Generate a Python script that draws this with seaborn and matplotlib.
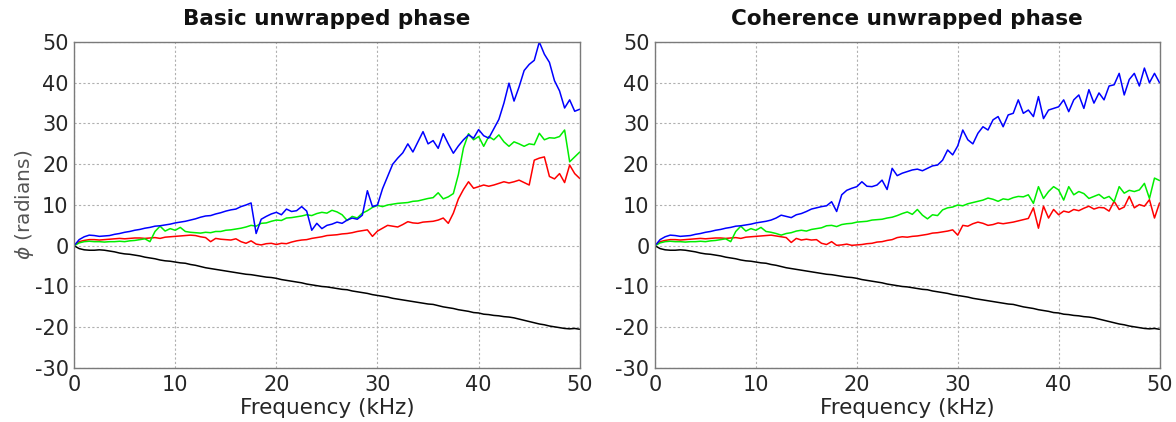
import numpy as np
import pandas as pd
import matplotlib
matplotlib.use("Agg")
import matplotlib.pyplot as plt
import seaborn as sns

# Frequency axis (kHz), 0.5 kHz spacing
freq = np.arange(0, 50.001, 0.5)

# Reference channel (shared by both estimators)
black = [0.0, -0.7, -1.0, -1.1, -1.1, -1.0, -1.1, -1.3, -1.5, -1.8, -2.0, -2.1, -2.3, -2.5, -2.8, -3.0,
         -3.2, -3.5, -3.7, -3.8, -4.0, -4.2, -4.3, -4.6, -4.8, -5.1, -5.4, -5.6, -5.8, -6.0, -6.2, -6.4,
         -6.6, -6.8, -7.0, -7.1, -7.3, -7.5, -7.7, -7.8, -8.0, -8.3, -8.5, -8.7, -8.9, -9.1, -9.4, -9.6,
         -9.8, -10.0, -10.1, -10.3, -10.5, -10.7, -10.8, -11.1, -11.3, -11.5, -11.7, -12.0, -12.2, -12.4,
         -12.6, -12.9, -13.1, -13.3, -13.5, -13.7, -13.9, -14.1, -14.3, -14.4, -14.7, -15.0, -15.2, -15.4,
         -15.7, -15.9, -16.1, -16.4, -16.5, -16.8, -16.9, -17.1, -17.2, -17.4, -17.5, -17.7, -18.0, -18.3,
         -18.6, -18.9, -19.2, -19.4, -19.7, -19.9, -20.1, -20.3, -20.4, -20.3, -20.5]

# Basic unwrapped phase
basic_blue = [0.0, 1.5, 2.2, 2.6, 2.5, 2.3, 2.4, 2.5, 2.8, 3.0, 3.3, 3.5, 3.8, 4.0, 4.3, 4.5,
              4.8, 4.9, 5.1, 5.3, 5.6, 5.8, 6.0, 6.3, 6.6, 7.0, 7.3, 7.4, 7.8, 8.1, 8.5, 8.8,
              9.0, 9.6, 10.0, 10.5, 3.0, 6.5, 7.2, 7.8, 8.2, 7.6, 9.0, 8.4, 8.6, 9.6, 8.5, 3.8,
              5.5, 4.2, 5.0, 5.3, 5.8, 5.5, 6.3, 6.8, 6.5, 7.5, 13.5, 9.6, 10.0, 14.0, 17.0, 20.0,
              21.5, 22.8, 25.0, 23.0, 25.5, 28.0, 25.0, 25.8, 23.9, 27.5, 25.0, 22.7, 24.5, 26.0,
              27.2, 26.4, 28.5, 27.0, 26.4, 28.7, 31.0, 35.0, 39.9, 35.5, 39.0, 43.0, 44.5, 45.5,
              50.0, 47.0, 45.0, 40.5, 38.0, 33.8, 35.8, 33.0, 33.5]
basic_green = [0.0, 0.7, 1.0, 1.1, 1.0, 1.0, 0.9, 1.0, 1.0, 1.1, 1.0, 1.2, 1.3, 1.5, 1.7, 1.0,
               3.5, 4.8, 3.6, 4.2, 3.8, 4.5, 3.5, 3.3, 3.2, 3.1, 3.3, 3.2, 3.5, 3.5, 3.8, 3.9,
               4.1, 4.3, 4.6, 5.0, 4.8, 5.5, 5.6, 6.0, 6.3, 6.2, 6.8, 6.9, 7.1, 7.3, 7.6, 7.4,
               7.9, 8.2, 8.0, 8.7, 8.3, 7.6, 6.2, 7.2, 6.8, 8.0, 8.6, 9.4, 9.9, 9.6, 10.0, 10.2,
               10.4, 10.5, 10.6, 10.9, 11.0, 11.3, 11.6, 11.8, 13.0, 11.5, 12.0, 12.8, 17.5, 24.0,
               27.5, 26.0, 26.8, 24.4, 26.8, 26.0, 27.2, 25.5, 24.4, 25.5, 25.0, 24.4, 25.0, 24.8,
               27.6, 26.0, 26.5, 26.4, 26.8, 28.4, 20.6, 21.8, 23.0]
basic_red = [0.0, 1.0, 1.3, 1.5, 1.5, 1.4, 1.5, 1.6, 1.7, 1.8, 1.7, 1.8, 1.9, 1.9, 1.8, 1.9,
             2.0, 1.8, 2.1, 2.2, 2.3, 2.4, 2.5, 2.6, 2.5, 2.2, 2.0, 1.0, 1.8, 1.6, 1.5, 1.4,
             1.7, 1.0, 0.6, 1.2, 0.4, 0.2, 0.5, 0.6, 0.3, 0.6, 0.5, 0.9, 1.2, 1.4, 1.5, 1.8,
             2.0, 2.2, 2.5, 2.6, 2.7, 2.9, 3.0, 3.2, 3.5, 3.7, 3.9, 2.3, 3.6, 4.3, 5.0, 4.8,
             4.6, 5.2, 5.9, 5.6, 5.5, 5.8, 5.9, 6.0, 6.3, 6.8, 5.5, 8.0, 11.5, 13.8, 15.7, 14.1,
             14.5, 14.9, 14.6, 14.9, 15.3, 15.7, 15.4, 15.7, 16.1, 15.5, 14.9, 21.0, 21.5, 21.8,
             17.0, 16.4, 17.7, 15.5, 19.8, 17.7, 16.5]

# Coherence unwrapped phase
coh_blue = [0.0, 1.5, 2.2, 2.6, 2.5, 2.3, 2.4, 2.5, 2.8, 3.0, 3.3, 3.5, 3.8, 4.0, 4.3, 4.5,
            4.8, 4.9, 5.1, 5.3, 5.6, 5.8, 6.0, 6.3, 6.8, 7.5, 7.2, 6.9, 7.6, 7.9, 8.4, 9.0,
            9.3, 9.6, 9.8, 10.8, 8.4, 12.5, 13.6, 14.1, 14.5, 15.7, 14.6, 14.5, 14.9, 16.1, 13.8, 19.0,
            17.2, 17.8, 18.2, 18.6, 18.8, 18.4, 19.0, 19.6, 19.8, 21.0, 23.5, 22.3, 24.5, 28.4, 26.0, 25.0,
            27.6, 29.2, 28.4, 30.9, 31.7, 29.2, 32.1, 32.5, 35.8, 32.5, 33.3, 31.7, 36.6, 31.2,
            33.3, 33.7, 34.1, 35.8, 32.9, 35.8, 37.0, 33.7, 38.3, 35.0, 37.5, 35.8, 39.2, 39.5,
            42.3, 37.0, 40.8, 42.3, 39.2, 43.6, 40.0, 42.3, 40.0]
coh_green = [0.0, 0.7, 1.0, 1.1, 1.0, 1.0, 0.9, 1.0, 1.0, 1.1, 1.0, 1.2, 1.3, 1.5, 1.7, 1.0,
             3.5, 4.8, 3.6, 4.2, 3.8, 4.5, 3.5, 3.3, 3.0, 2.6, 3.0, 3.2, 3.6, 3.8, 3.6, 4.0,
             4.2, 4.4, 4.9, 5.0, 4.7, 5.2, 5.4, 5.5, 5.8, 5.9, 6.0, 6.3, 6.4, 6.5, 6.8, 7.0,
             7.4, 7.9, 8.3, 7.7, 8.9, 7.5, 6.6, 7.6, 7.4, 8.8, 9.3, 9.5, 10.0, 9.8, 10.3, 10.6,
             10.9, 11.2, 11.7, 11.4, 10.9, 11.5, 11.3, 11.8, 12.1, 12.0, 12.5, 10.4, 14.5, 11.6,
             13.3, 14.5, 13.7, 11.2, 14.5, 12.5, 13.3, 12.8, 11.6, 12.1, 12.6, 11.6, 12.1, 10.8,
             14.5, 12.9, 13.6, 13.3, 13.7, 15.3, 11.6, 16.6, 16.0]
coh_red = [0.0, 1.0, 1.3, 1.5, 1.5, 1.4, 1.5, 1.6, 1.7, 1.8, 1.7, 1.8, 1.9, 1.9, 1.8, 1.9,
           2.0, 1.8, 2.1, 2.2, 2.3, 2.4, 2.5, 2.6, 2.4, 2.2, 2.0, 0.8, 1.8, 1.4, 1.6, 1.4,
           1.5, 0.6, 0.3, 1.0, 0.1, 0.2, 0.4, 0.1, 0.2, 0.3, 0.5, 0.6, 0.9, 1.0, 1.3, 1.5,
           2.0, 2.2, 2.1, 2.3, 2.4, 2.6, 2.8, 3.1, 3.2, 3.4, 3.6, 3.9, 2.6, 5.0, 4.8, 5.4,
           5.8, 5.5, 5.0, 5.2, 5.6, 5.4, 5.6, 5.8, 6.1, 6.4, 6.7, 9.3, 4.3, 9.7, 6.8, 8.9,
           7.6, 8.5, 8.2, 8.9, 8.6, 9.2, 9.7, 9.0, 9.4, 9.3, 8.5, 10.9, 8.9, 9.5, 12.1, 9.3,
           10.1, 9.7, 11.3, 6.8, 10.5]

x_ticks = [0, 10, 20, 30, 40, 50]
y_ticks = [-30, -20, -10, 0, 10, 20, 30, 40, 50]
titles = ["Basic unwrapped phase", "Coherence unwrapped phase"]
series_order = ["ref", "red", "green", "blue"]
palette = {"ref": "#000000", "red": "#ff0000", "green": "#00ee00", "blue": "#0000ff"}


def long_frame(series):
    frames = []
    for name, vals in series.items():
        frames.append(pd.DataFrame({"freq": freq, "phase": vals, "channel": name}))
    return pd.concat(frames, ignore_index=True)


panels = [
    long_frame({"ref": black, "red": basic_red, "green": basic_green, "blue": basic_blue}),
    long_frame({"ref": black, "red": coh_red, "green": coh_green, "blue": coh_blue}),
]

sns.set_style("white")
plt.rcParams["font.family"] = ["DejaVu Sans"]
plt.rcParams["axes.unicode_minus"] = False

fig = plt.figure(figsize=(11.76, 4.22), dpi=100)
boxes = [[0.063, 0.128, 0.430, 0.7725], [0.557, 0.128, 0.429, 0.7725]]

for i, (df, box) in enumerate(zip(panels, boxes)):
    ax = fig.add_axes(box)
    sns.lineplot(data=df, x="freq", y="phase", hue="channel", hue_order=series_order,
                 palette=palette, linewidth=1.1, legend=False, ax=ax, estimator=None,
                 sort=False)
    ax.set_xlim(0, 50)
    ax.set_ylim(-30, 50)
    ax.set_xticks(x_ticks)
    ax.set_yticks(y_ticks)
    ax.grid(True, linestyle=(0, (2, 2)), color="#b0b0b0", linewidth=0.8)
    ax.set_axisbelow(True)
    for sp in ax.spines.values():
        sp.set_color("#7a7a7a")
        sp.set_linewidth(1.0)
    ax.tick_params(axis="both", direction="in", length=3, color="#7a7a7a",
                   labelsize=15, labelcolor="#262626")
    ax.tick_params(axis="x", pad=5)
    ax.tick_params(axis="y", pad=4)
    ax.set_title(titles[i], fontsize=15.5, fontweight="bold", color="#111111", pad=12)
    ax.set_xlabel("Frequency (kHz)", fontsize=15.5, color="#262626", labelpad=2)
    if i == 0:
        ax.set_ylabel(r"$\phi$ (radians)", fontsize=14.5, color="#555555", labelpad=-1)
    else:
        ax.set_ylabel("")

fig.savefig("out.png", dpi=100)
